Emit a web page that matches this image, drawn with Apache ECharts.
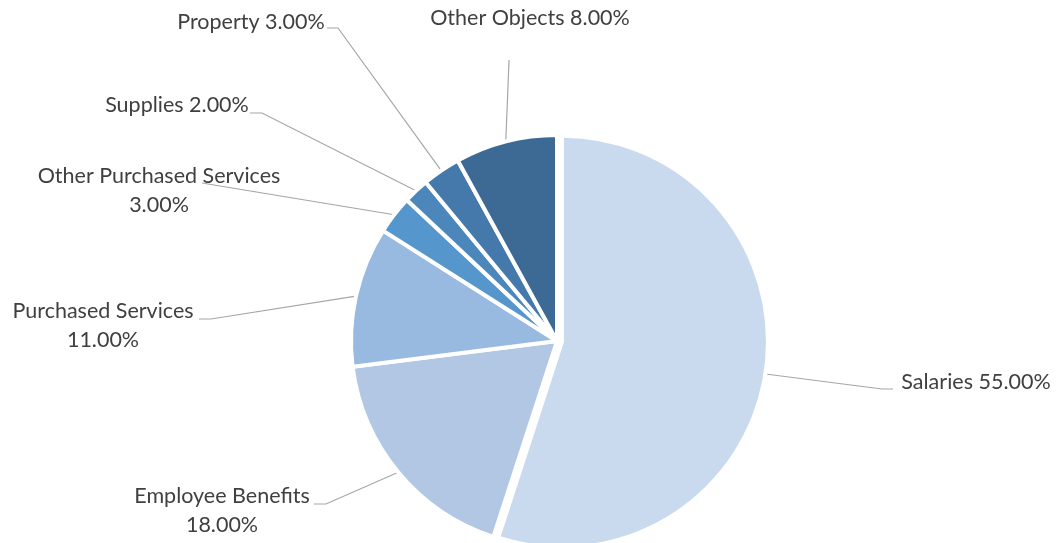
<!DOCTYPE html>
<html>
<head>
<meta charset="utf-8">
<script src="https://cdn.jsdelivr.net/npm/echarts@6/dist/echarts.min.js"></script>
<style>
  html, body { margin: 0; padding: 0; background: #fff; }
  #chart { width: 1057px; height: 543px; }
</style>
</head>
<body>
<div id="chart"></div>
<script>
// Expense categories and their share of the total budget (percent)
const categories = [
  'Salaries',
  'Employee Benefits',
  'Purchased Services',
  'Other Purchased Services',
  'Supplies',
  'Property',
  'Other Objects'
];
const shares = [55, 18, 11, 3, 2, 3, 8];

// The slice pulled slightly out of the pie
const explodedCategory = 'Salaries';

// Slice colours, one per category
const palette = ['#C9D9EE', '#B1C7E4', '#98B9E0', '#5596CC', '#4C87BB', '#4679AB', '#3D6A95'];

// Label placement: text centre, wrapped text, and the leader-line tail (near label -> elbow)
const labelPlacement = {
  'Salaries':                 { x: 976, y: 382, wrap: false, tail: [[893, 389], [882, 389]] },
  'Employee Benefits':        { x: 222, y: 511, wrap: true,  tail: [[314, 504], [326, 504]] },
  'Purchased Services':       { x: 103, y: 326, wrap: true,  tail: [[199, 319], [211, 319]] },
  'Other Purchased Services': { x: 159, y: 191, wrap: true,  tail: [[202, 183], [208, 184]] },
  'Supplies':                 { x: 177, y: 105, wrap: false, tail: [[250, 113], [262, 113]] },
  'Property':                 { x: 251, y: 22,  wrap: false, tail: [[327, 28], [338, 28]] },
  'Other Objects':            { x: 530, y: 18,  wrap: false, tail: [[509, 60], [509, 61]] }
};

const pieCenter = [557, 341];
const pieRadius = 206;
const explodeDistance = 5;

// Direction of the exploded slice: middle of its arc, measured clockwise from 12 o'clock
const total = shares.reduce((a, b) => a + b, 0);
const explodedIndex = categories.indexOf(explodedCategory);
const before = shares.slice(0, explodedIndex).reduce((a, b) => a + b, 0);
const midAngle = (before + shares[explodedIndex] / 2) / total * 2 * Math.PI;
const explodedCenter = [
  pieCenter[0] + explodeDistance * Math.sin(midAngle),
  pieCenter[1] - explodeDistance * Math.cos(midAngle)
];

const hidden = {
  itemStyle: { color: 'transparent', borderColor: 'transparent' },
  label: { show: false },
  labelLine: { show: false }
};

function buildData(showExploded) {
  return categories.map((name, i) => {
    const isExploded = name === explodedCategory;
    const item = { name: name, value: shares[i], itemStyle: { color: palette[i] } };
    return (isExploded === showExploded) ? item : Object.assign(item, hidden);
  });
}

const labelStyle = {
  show: true,
  color: '#404040',
  fontFamily: 'Lato, "Open Sans", sans-serif',
  fontSize: 21.5,
  lineHeight: 29,
  align: 'center',
  formatter: function (p) {
    const sep = labelPlacement[p.name].wrap ? '\n' : ' ';
    return p.name + sep + p.value.toFixed(2) + '%';
  }
};

function placeLabel(params) {
  const place = labelPlacement[categories[params.dataIndex]];
  const out = { x: place.x, y: place.y, align: 'center', verticalAlign: 'middle' };
  if (params.labelLinePoints) {
    out.labelLinePoints = [params.labelLinePoints[0], place.tail[1], place.tail[0]];
  }
  return out;
}

function pieSeries(center, data) {
  return {
    type: 'pie',
    center: center,
    radius: pieRadius,
    startAngle: 90,
    clockwise: true,
    avoidLabelOverlap: false,
    silent: true,
    data: data,
    itemStyle: { borderColor: '#ffffff', borderWidth: 4 },
    emphasis: { disabled: true },
    label: labelStyle,
    labelLine: {
      show: true,
      length: 10,
      length2: 10,
      lineStyle: { color: '#A6A6A6', width: 1.2 }
    },
    labelLayout: placeLabel
  };
}

const chart = echarts.init(document.getElementById('chart'));
chart.setOption({
  animation: false,
  backgroundColor: '#ffffff',
  series: [
    pieSeries(pieCenter, buildData(false)),
    pieSeries(explodedCenter, buildData(true))
  ]
});
</script>
</body>
</html>
